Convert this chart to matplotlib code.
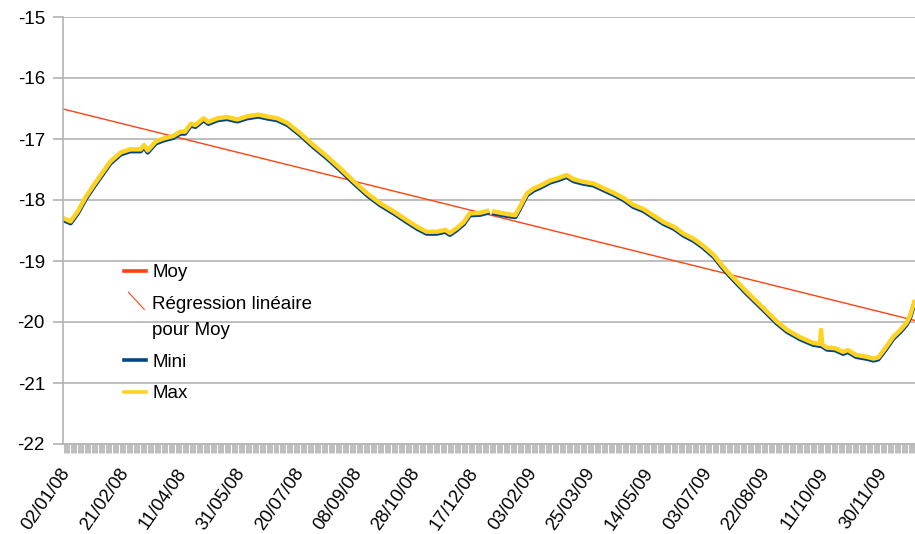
import numpy as np
import matplotlib
matplotlib.use("Agg")
import matplotlib.pyplot as plt
from matplotlib.lines import Line2D
from matplotlib.legend_handler import HandlerBase
from matplotlib.ticker import MultipleLocator
from matplotlib.transforms import ScaledTranslation

plt.rcParams["font.family"] = ["Liberation Sans", "DejaVu Sans"]
plt.rcParams["axes.unicode_minus"] = False

nan = np.nan

# index du jour (catégorie) depuis le 02/01/08
jours = [0, 6, 12, 19, 26, 33, 40, 49, 57, 66,
         69, 72, 79, 86, 94, 100, 104, 109, 113, 120,
         124, 132, 140, 149, 157, 167, 174, 183, 192, 203,
         214, 226, 237, 249, 260, 271, 283, 294, 303, 311,
         320, 327, 331, 337, 343, 348, 357, 363, 366, 369,
         380, 387, 391, 397, 403, 408, 417, 424, 431, 437,
         445, 454, 463, 471, 480, 488, 497, 505, 514, 523,
         531, 540, 548, 557, 565, 571, 585, 600, 611, 620,
         631, 642, 648, 649, 650, 654, 661, 668, 672, 679,
         688, 694, 698, 704, 711, 717, 722, 725, 729]

maxi = [-18.30, -18.35, -18.19, -17.95, -17.75, -17.56, -17.37, -17.22, -17.17, -17.17,
        -17.10, -17.19, -17.04, -16.99, -16.95, -16.88, -16.88, -16.75, -16.77, -16.66,
        -16.72, -16.66, -16.64, -16.68, -16.63, -16.60, -16.63, -16.66, -16.74, -16.91,
        -17.10, -17.29, -17.48, -17.70, -17.89, -18.05, -18.19, -18.33, -18.44, -18.52,
        -18.52, -18.49, -18.54, -18.46, -18.36, -18.22, -18.21, -18.18, nan, -18.19,
        -18.23, -18.25, -18.11, -17.89, -17.81, -17.77, -17.68, -17.64, -17.59, -17.66,
        -17.70, -17.73, -17.81, -17.88, -17.97, -18.08, -18.15, -18.25, -18.36, -18.44,
        -18.55, -18.64, -18.75, -18.90, -19.09, -19.22, -19.50, -19.78, -19.99, -20.13,
        -20.25, -20.34, -20.36, -20.13, -20.37, -20.42, -20.43, -20.49, -20.46, -20.54,
        -20.57, -20.60, -20.58, -20.43, -20.24, -20.13, -20.02, -19.91, -19.67]

mini = [-18.33, -18.38, -18.22, -17.98, -17.78, -17.59, -17.40, -17.25, -17.20, -17.20,
        -17.13, -17.22, -17.07, -17.02, -16.98, -16.91, -16.91, -16.78, -16.80, -16.69,
        -16.75, -16.69, -16.67, -16.71, -16.66, -16.63, -16.66, -16.69, -16.77, -16.94,
        -17.13, -17.32, -17.51, -17.73, -17.92, -18.08, -18.22, -18.36, -18.47, -18.55,
        -18.55, -18.52, -18.57, -18.49, -18.39, -18.25, -18.24, -18.21, nan, -18.22,
        -18.26, -18.28, -18.14, -17.92, -17.84, -17.80, -17.71, -17.67, -17.62, -17.69,
        -17.73, -17.76, -17.84, -17.91, -18.00, -18.11, -18.18, -18.28, -18.39, -18.47,
        -18.58, -18.67, -18.78, -18.93, -19.12, -19.25, -19.53, -19.81, -20.02, -20.16,
        -20.28, -20.37, -20.39, -20.39, -20.40, -20.45, -20.46, -20.52, -20.49, -20.57,
        -20.60, -20.63, -20.61, -20.46, -20.27, -20.16, -20.05, -19.94, -19.70]

moy = [-18.32, -18.37, -18.21, -17.97, -17.77, -17.58, -17.39, -17.24, -17.19, -17.19,
       -17.12, -17.21, -17.06, -17.01, -16.97, -16.90, -16.90, -16.77, -16.79, -16.68,
       -16.74, -16.68, -16.66, -16.70, -16.65, -16.62, -16.65, -16.68, -16.76, -16.93,
       -17.12, -17.31, -17.50, -17.72, -17.91, -18.07, -18.21, -18.35, -18.46, -18.54,
       -18.54, -18.51, -18.56, -18.48, -18.38, -18.24, -18.23, -18.20, nan, -18.21,
       -18.25, -18.27, -18.13, -17.91, -17.83, -17.79, -17.70, -17.66, -17.61, -17.68,
       -17.72, -17.75, -17.83, -17.90, -17.99, -18.10, -18.17, -18.27, -18.38, -18.46,
       -18.57, -18.66, -18.77, -18.92, -19.11, -19.24, -19.52, -19.80, -20.01, -20.15,
       -20.27, -20.36, -20.38, -20.37, -20.39, -20.44, -20.45, -20.51, -20.48, -20.56,
       -20.59, -20.62, -20.60, -20.45, -20.26, -20.15, -20.04, -19.93, -19.69]

# régression linéaire pour Moy
reg_origine = -16.51
reg_pente = -0.00475

nb_jours = 730
etiquettes = ["02/01/08", "21/02/08", "11/04/08", "31/05/08", "20/07/08",
              "08/09/08", "28/10/08", "17/12/08", "03/02/09", "25/03/09",
              "14/05/09", "03/07/09", "22/08/09", "11/10/09", "30/11/09"]

ROUGE = "#ff420e"
BLEU = "#004586"
JAUNE = "#ffd320"
GRIS = "#b3b3b3"


class HandlerDiagonale(HandlerBase):
    """Petit trait en diagonale, comme dans la légende de LibreOffice."""
    def create_artists(self, legend, orig_handle, xdescent, ydescent,
                       width, height, fontsize, trans):
        ligne = Line2D([-xdescent + width * 0.2, -xdescent + width * 0.9],
                       [-ydescent + height * 2.4, -ydescent + height * 1.1],
                       color=orig_handle.get_color(), lw=0.8)
        ligne.set_transform(trans)
        return [ligne]


fig = plt.figure(figsize=(9.15, 5.34), dpi=100)
ax = fig.add_axes([63 / 915, 1 - 444 / 534, 852 / 915, 427 / 534])

l_moy, = ax.plot(jours, moy, color=ROUGE, lw=3.2, label="Moy")
l_reg = ax.axline((0, reg_origine), slope=reg_pente, color=ROUGE, lw=1.0,
                  label="Régression linéaire\npour Moy")
l_mini, = ax.plot(jours, mini, color=BLEU, lw=3.2, label="Mini")
l_max, = ax.plot(jours, maxi, color=JAUNE, lw=3.2, label="Max")

ax.set_xlim(-0.5, nb_jours - 0.5)
ax.set_ylim(-22, -15)
ax.set_yticks(range(-22, -14))
ax.grid(axis="y", color=GRIS, lw=1.2)
ax.set_axisbelow(True)

for cote in ["top", "right"]:
    ax.spines[cote].set_visible(False)
for cote in ["left", "bottom"]:
    ax.spines[cote].set_color(GRIS)
    ax.spines[cote].set_linewidth(1.2)

ax.tick_params(axis="y", length=7, width=1.2, color=GRIS, labelsize=13.5, pad=6)

ax.set_xticks([50 * i for i in range(len(etiquettes))])
ax.set_xticklabels(etiquettes)
ax.xaxis.set_minor_locator(MultipleLocator(1))
ax.tick_params(axis="x", which="both", length=6.5, width=0.6, color=GRIS)
ax.tick_params(axis="x", which="major", labelsize=13.2, pad=12)
decalage = ScaledTranslation(3 / 100, 0, fig.dpi_scale_trans)
for lbl in ax.get_xticklabels():
    lbl.set_rotation(55)
    lbl.set_ha("right")
    lbl.set_va("center")
    lbl.set_rotation_mode("anchor")
    lbl.set_transform(lbl.get_transform() + decalage)

leg = ax.legend(handles=[l_moy, l_reg, l_mini, l_max],
                handler_map={l_reg: HandlerDiagonale()},
                loc="upper left", bbox_to_anchor=(124 / 915, 1 - 264 / 534),
                bbox_transform=fig.transFigure, frameon=False, fontsize=13.5,
                borderpad=0, borderaxespad=0, handlelength=1.2,
                handletextpad=0.3, labelspacing=0.78)
leg.get_texts()[1].set_linespacing(1.7)
for h in leg.legend_handles:
    if h is not None and h.get_linewidth() > 2:
        h.set_linewidth(2.6)

fig.savefig("out.png", dpi=100)
